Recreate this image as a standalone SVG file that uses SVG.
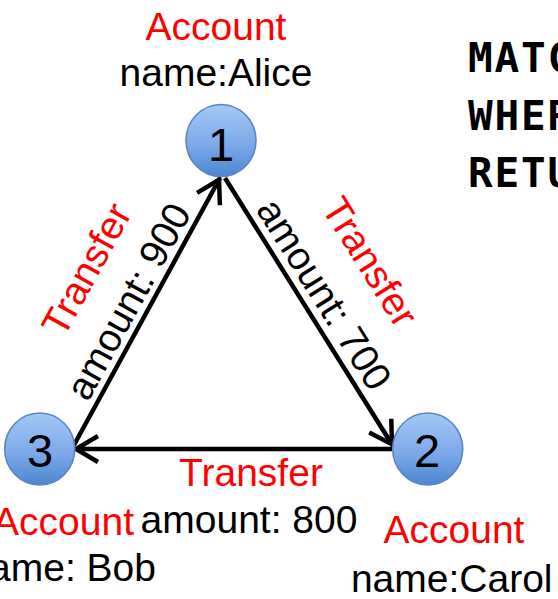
<svg xmlns="http://www.w3.org/2000/svg" width="558" height="599" viewBox="0 0 558 599">
  <defs>
    <linearGradient id="nodeFill" x1="0" y1="0" x2="0" y2="1">
      <stop offset="0" stop-color="#a3c8f7"/>
      <stop offset="0.55" stop-color="#7eaaea"/>
      <stop offset="1" stop-color="#4b86d3"/>
    </linearGradient>
    <marker id="arrow" markerUnits="userSpaceOnUse" markerWidth="34" markerHeight="34" viewBox="-30 -17 34 34" refX="0" refY="0" orient="auto" overflow="visible">
      <path d="M -24 -13 L -2 0 L -24 13" fill="none" stroke="#000" stroke-width="4.5" stroke-linejoin="miter"/>
    </marker>
    <style>
      .node ellipse { fill: url(#nodeFill); stroke: #5b86bf; stroke-width: 1.6; }
      .num { font-family: "Liberation Sans", Arial, sans-serif; font-size: 47px; fill: #000; text-anchor: middle; }
      .lbl { font-family: "Liberation Sans", Arial, sans-serif; font-size: 39px; fill: #ff0000; }
      .prop { font-family: "Liberation Sans", Arial, sans-serif; font-size: 39px; fill: #000; }
      .mid { text-anchor: middle; }
      .end { text-anchor: end; }
      .edge { stroke: #000; stroke-width: 4.5; fill: none; marker-end: url(#arrow); }
      .code { font-family: "DejaVu Sans Mono", "Liberation Mono", monospace; font-weight: bold; font-size: 41px; letter-spacing: 1.8px; fill: #000; }
    </style>
  </defs>

  <rect width="558" height="599" fill="#ffffff"/>

  <!-- connectors -->
  <g id="edges">
    <line class="edge" x1="74" y1="445" x2="220" y2="178"/>
    <line class="edge" x1="225" y1="178" x2="393" y2="446"/>
    <line class="edge" x1="392" y1="449" x2="74" y2="449"/>
  </g>

  <!-- edge labels -->
  <g id="edge-labels">
    <g transform="translate(98.2,275.7) rotate(-61.3)"><text class="lbl mid">Transfer</text></g>
    <g transform="translate(140,307.7) rotate(-61.3)"><text class="prop mid">amount: 900</text></g>
    <g transform="translate(358.8,269) rotate(57.9)"><text class="lbl mid">Transfer</text></g>
    <g transform="translate(312.9,301.3) rotate(57.9)"><text class="prop mid">amount: 700</text></g>
    <text class="lbl mid" x="251" y="486">Transfer</text>
    <text class="prop mid" x="249" y="532.5">amount: 800</text>
  </g>

  <!-- accounts -->
  <g id="node-1" class="node">
    <ellipse cx="221" cy="140.5" rx="35" ry="36"/>
    <text class="num" x="221" y="161">1</text>
    <text class="lbl mid" x="216" y="39.5">Account</text>
    <text class="prop mid" x="216" y="86">name:Alice</text>
  </g>

  <g id="node-2" class="node">
    <ellipse cx="427.7" cy="449" rx="35" ry="36"/>
    <text class="num" x="427" y="466.5">2</text>
    <text class="lbl mid" x="454" y="542.5">Account</text>
    <text class="prop mid" x="451.7" y="591.5">name:Carol</text>
  </g>

  <g id="node-3" class="node">
    <ellipse cx="39.7" cy="449" rx="35" ry="36"/>
    <text class="num" x="40" y="466.5">3</text>
    <text class="lbl end" x="134" y="535">Account</text>
    <text class="prop end" x="156" y="581">ame: Bob</text>
  </g>

  <!-- query text -->
  <g id="query">
    <text class="code" x="468" y="72">MATC</text>
    <text class="code" x="468" y="129.5">WHER</text>
    <text class="code" x="468" y="187">RETU</text>
  </g>
</svg>
